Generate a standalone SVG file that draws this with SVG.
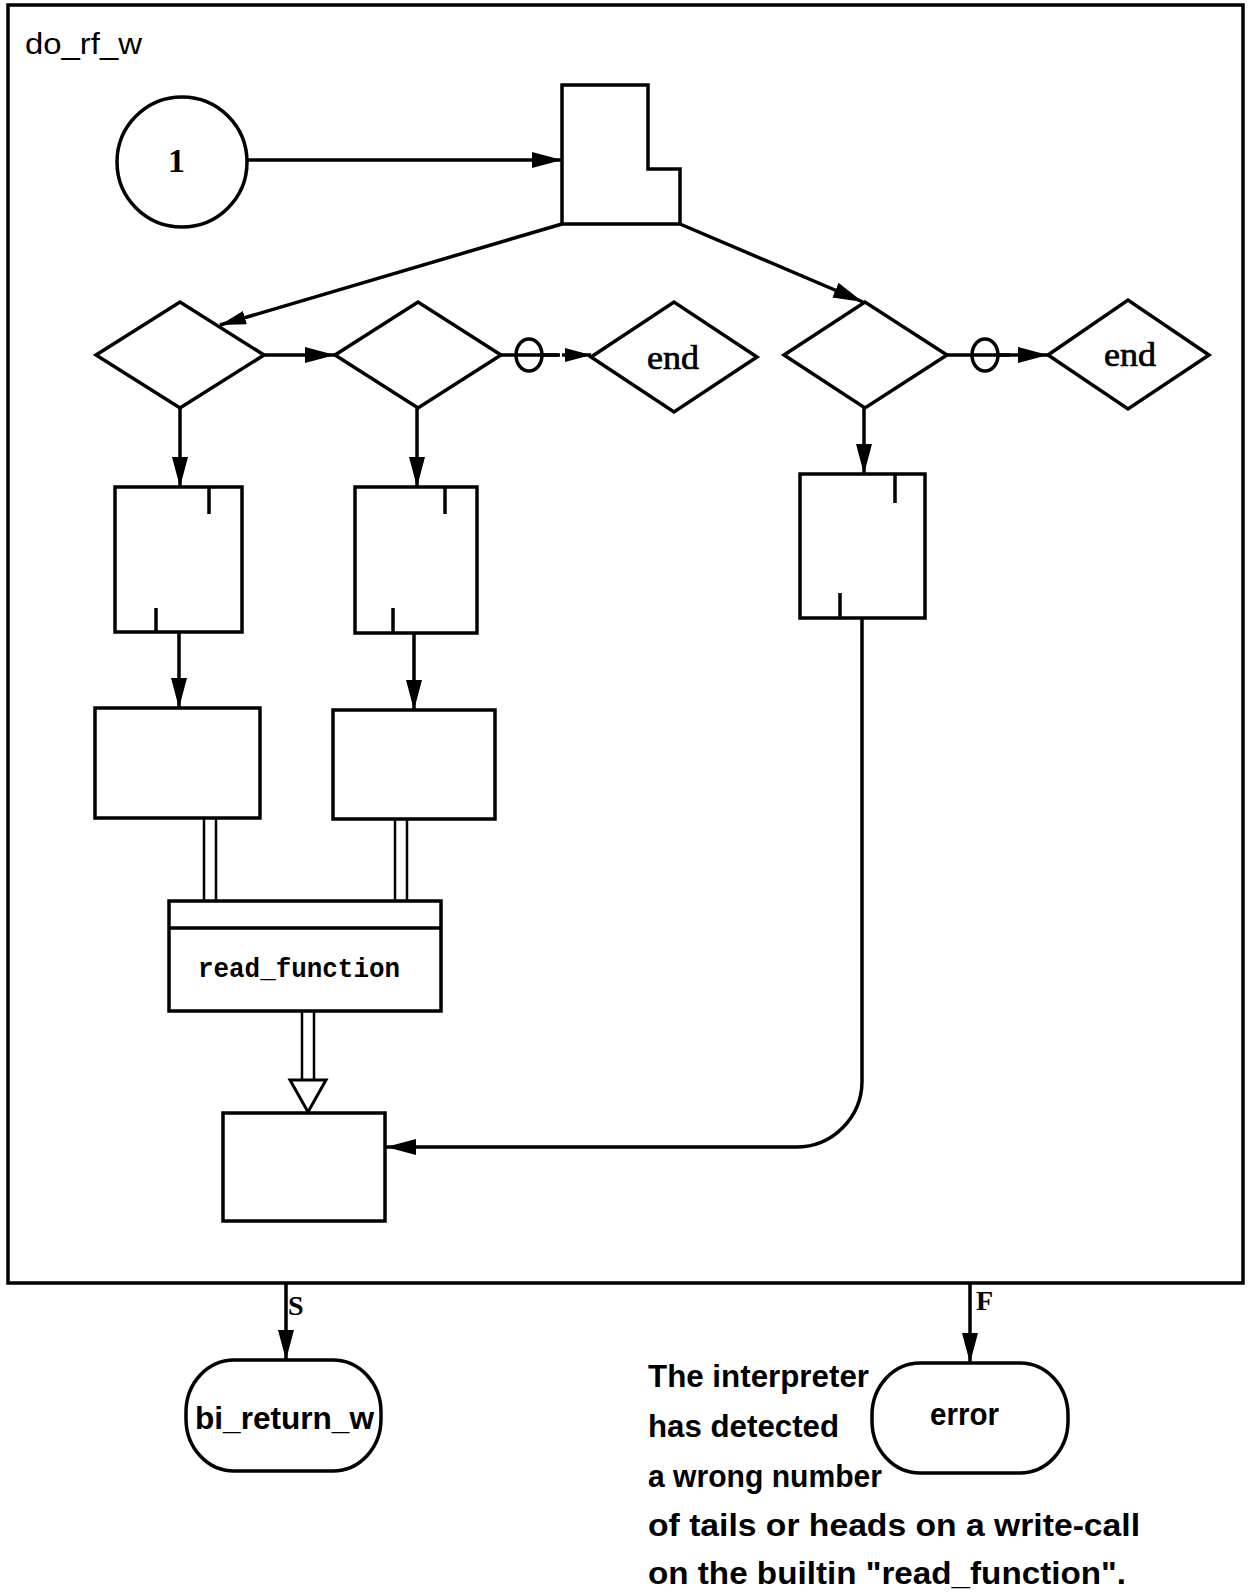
<svg xmlns="http://www.w3.org/2000/svg" width="1254" height="1594" viewBox="0 0 1254 1594">
<style>
.ln{fill:none;stroke:#000;stroke-width:3.5}
.sh{fill:#fff;stroke:#000;stroke-width:3.5}
.thin{fill:none;stroke:#000;stroke-width:2.5}
.serif{font-family:"Liberation Serif","DejaVu Serif",serif;fill:#000}
.mono{font-family:"Liberation Mono","DejaVu Sans Mono",monospace;font-weight:bold;fill:#000}
.sans{font-family:"Liberation Sans","DejaVu Sans",sans-serif;font-weight:bold;fill:#000}
.title{font-family:"Liberation Sans","DejaVu Sans",sans-serif;fill:#000}
</style>
<defs>
<marker id="ah" markerUnits="userSpaceOnUse" markerWidth="32" markerHeight="18" refX="30" refY="8" orient="auto">
<path d="M0,0 L30,8 L0,16 z" fill="#000"/>
</marker>
<marker id="ahs" markerUnits="userSpaceOnUse" markerWidth="28" markerHeight="16" refX="26" refY="7" orient="auto">
<path d="M0,0 L26,7 L0,14 z" fill="#000"/>
</marker>
</defs>
<rect width="1254" height="1594" fill="#fff"/>

<g id="frame">
<rect x="8" y="5" width="1235" height="1278" class="ln"/>
<text x="25" y="54" class="title" font-size="29" textLength="117" lengthAdjust="spacingAndGlyphs">do_rf_w</text>
</g>

<g id="start">
<circle cx="182" cy="162" r="65" class="sh"/>
<text x="168" y="172" class="serif" font-size="34" font-weight="bold">1</text>
</g>

<g id="topbox">
<path d="M562,85 H648 V169 H680 V224 H562 Z" class="sh"/>
</g>

<g id="d1"><path d="M96,355 L180,302 L264,355 L180,408 Z" class="sh"/></g>
<g id="d2"><path d="M335,355 L418,302 L501,355 L418,408 Z" class="sh"/></g>
<g id="end1">
<path d="M591,357 L674,302 L757,357 L674,412 Z" class="sh"/>
<text x="647" y="369" class="serif" font-size="34" stroke="#000" stroke-width="0.7" textLength="52" lengthAdjust="spacingAndGlyphs">end</text>
</g>
<g id="d3"><path d="M784,355 L865,302 L947,355 L865,408 Z" class="sh"/></g>
<g id="end2">
<path d="M1048,355 L1128,300 L1209,355 L1128,409 Z" class="sh"/>
<text x="1104" y="366" class="serif" font-size="34" stroke="#000" stroke-width="0.7" textLength="52" lengthAdjust="spacingAndGlyphs">end</text>
</g>

<g id="boxA">
<rect x="115" y="487" width="127" height="145" class="sh"/>
<path d="M209,487 V514 M156,608 V632" class="ln"/>
</g>
<g id="boxB">
<rect x="355" y="487" width="122" height="146" class="sh"/>
<path d="M445,487 V514 M393,608 V633" class="ln"/>
</g>
<g id="boxE">
<rect x="800" y="474" width="125" height="144" class="sh"/>
<path d="M895,474 V503 M840,593 V618" class="ln"/>
</g>
<g id="boxC"><rect x="95" y="708" width="165" height="110" class="sh"/></g>
<g id="boxD"><rect x="333" y="710" width="162" height="109" class="sh"/></g>

<g id="readfn">
<rect x="169" y="901" width="272" height="110" class="sh"/>
<line x1="169" y1="928" x2="441" y2="928" class="ln"/>
<text x="198" y="977" class="mono" font-size="28" textLength="202" lengthAdjust="spacingAndGlyphs">read_function</text>
</g>

<g id="boxF"><rect x="223" y="1113" width="162" height="108" class="sh"/></g>

<g id="bi_return_w">
<rect x="186" y="1360" width="195" height="111" rx="48" ry="52" class="sh"/>
<text x="195" y="1429" class="sans" font-size="31" textLength="179" lengthAdjust="spacingAndGlyphs">bi_return_w</text>
</g>
<g id="error">
<rect x="872" y="1363" width="196" height="110" rx="48" ry="52" class="sh"/>
<text x="930" y="1425" class="sans" font-size="31" textLength="69" lengthAdjust="spacingAndGlyphs">error</text>
</g>

<g id="note" class="sans" font-size="31">
<text x="648" y="1387" textLength="221" lengthAdjust="spacingAndGlyphs">The interpreter</text>
<text x="648" y="1437" textLength="191" lengthAdjust="spacingAndGlyphs">has detected</text>
<text x="648" y="1487" textLength="234" lengthAdjust="spacingAndGlyphs">a wrong number</text>
<text x="648" y="1536" textLength="492" lengthAdjust="spacingAndGlyphs">of tails or heads on a write-call</text>
<text x="648" y="1584" textLength="478" lengthAdjust="spacingAndGlyphs">on the builtin "read_function".</text>
</g>

<g id="connectors">
<line x1="247" y1="160" x2="562" y2="160" class="ln" marker-end="url(#ah)"/>
<line x1="562" y1="224" x2="220" y2="325" class="ln" marker-end="url(#ahs)"/>
<line x1="680" y1="224" x2="863" y2="302" class="ln" marker-end="url(#ah)"/>
<line x1="264" y1="355" x2="335" y2="355" class="ln" marker-end="url(#ah)"/>
<line x1="501" y1="355" x2="560" y2="355" class="ln"/>
<ellipse cx="529" cy="355" rx="13" ry="16" class="sh"/>
<line x1="516" y1="355" x2="558" y2="355" class="ln"/>
<line x1="562" y1="355" x2="591" y2="355" class="ln" marker-end="url(#ahs)"/>
<line x1="947" y1="355" x2="1048" y2="355" class="ln" marker-end="url(#ah)"/>
<ellipse cx="985" cy="355" rx="13" ry="16" class="sh"/>
<line x1="972" y1="355" x2="1010" y2="355" class="ln"/>
<line x1="180" y1="408" x2="180" y2="487" class="ln" marker-end="url(#ah)"/>
<line x1="417" y1="408" x2="417" y2="487" class="ln" marker-end="url(#ah)"/>
<line x1="864" y1="408" x2="864" y2="474" class="ln" marker-end="url(#ah)"/>
<line x1="179" y1="632" x2="179" y2="708" class="ln" marker-end="url(#ah)"/>
<line x1="414" y1="633" x2="414" y2="710" class="ln" marker-end="url(#ah)"/>
<path d="M204,818 V901 M216,818 V901" class="thin"/>
<path d="M395,819 V901 M407,819 V901" class="thin"/>
<path d="M302,1011 V1080 M314,1011 V1080" class="thin"/>
<path d="M290,1080 L326,1080 L308,1112 Z" fill="#fff" stroke="#000" stroke-width="3"/>
<path d="M862,618 V1081 A66,66 0 0 1 796,1147 H386" class="ln" marker-end="url(#ah)"/>
<line x1="286" y1="1283" x2="286" y2="1360" class="ln" marker-end="url(#ah)"/>
<text x="288" y="1315" class="serif" font-size="28" font-weight="bold">S</text>
<line x1="970" y1="1283" x2="970" y2="1363" class="ln" marker-end="url(#ah)"/>
<text x="976" y="1310" class="serif" font-size="28" font-weight="bold">F</text>
</g>
</svg>
